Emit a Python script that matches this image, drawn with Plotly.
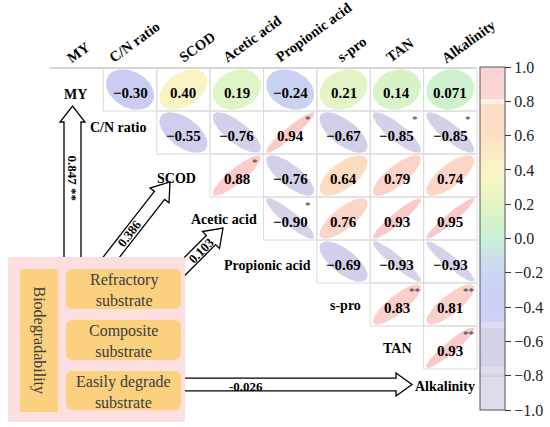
import numpy as np
import plotly.graph_objects as go
from plotly.colors import sample_colorscale

# ---------------- data ----------------
variables = ["MY", "C/N ratio", "SCOD", "Acetic acid", "Propionic acid", "s-pro", "TAN", "Alkalinity"]
# upper-triangle correlations, row i holds columns i+1 .. 7
corr_my = [-0.30, 0.40, 0.19, -0.24, 0.21, 0.14, 0.071]
corr_cn = [-0.55, -0.76, 0.94, -0.67, -0.85, -0.85]
corr_scod = [0.88, -0.76, 0.64, 0.79, 0.74]
corr_acetic = [-0.90, 0.76, 0.93, 0.95]
corr_propionic = [-0.69, -0.93, -0.93]
corr_spro = [0.83, 0.81]
corr_tan = [0.93]
corr_rows = [corr_my, corr_cn, corr_scod, corr_acetic, corr_propionic, corr_spro, corr_tan]

sig_my = ["", "", "", "", "", "", ""]
sig_cn = ["", "", "*", "", "*", "*"]
sig_scod = ["*", "", "", "", ""]
sig_acetic = ["*", "", "", ""]
sig_propionic = ["", "", ""]
sig_spro = ["**", "**"]
sig_tan = ["**"]
sig_rows = [sig_my, sig_cn, sig_scod, sig_acetic, sig_propionic, sig_spro, sig_tan]

path_labels = ["0.847 **", "0.386", "0.103", "-0.026"]
substrates = ["Refractory<br>substrate", "Composite<br>substrate", "Easily degrade<br>substrate"]
group_label = "Biodegradability"
cbar_ticks = [-1.0, -0.8, -0.6, -0.4, -0.2, 0.0, 0.2, 0.4, 0.6, 0.8, 1.0]

# ---------------- styles / layout constants ----------------
FONT = "Liberation Serif, Times New Roman, serif"
W, H = 550, 427
OFF = 0  # body margin removed by post_script: axis units = window pixels
X0, X1 = 50.0, 477.0
N = len(variables)
CW = (X1 - X0) / N
Y0, RH = 68.0, 43.0

# colour bar palette (with the light bands of the original)
cs_hex = [
    (-1.00, "#e3dcea"), (-0.98, "#e0dcec"), (-0.81, "#dedbeb"), (-0.805, "#d3d0e3"),
    (-0.79, "#d3d0e3"), (-0.785, "#dedcee"), (-0.75, "#dedcee"), (-0.745, "#d3d4e8"),
    (-0.525, "#d1d2e9"), (-0.52, "#dcdcf7"), (-0.49, "#dcdcf7"), (-0.485, "#d0d0f8"),
    (-0.30, "#cdd0f6"), (-0.15, "#cadcef"), (0.00, "#c8f0da"), (0.10, "#d4f2c8"),
    (0.20, "#e4f5c6"), (0.35, "#f8f6c4"), (0.45, "#fdefc8"), (0.60, "#fde0c4"),
    (0.78, "#fddcc8"), (0.785, "#fdefe2"), (0.81, "#fdefe2"), (0.815, "#fcd6d4"),
    (1.00, "#fbd2d2"),
]
# smooth palette used for the ellipses
ell_hex = [
    (-1.0, "#d8d2ea"), (-0.8, "#d4d0e8"), (-0.6, "#cfcfeb"), (-0.45, "#cdcdf2"),
    (-0.3, "#cbccf4"), (-0.2, "#cad6f0"), (-0.1, "#c9e4e4"), (0.0, "#c8f0d8"),
    (0.1, "#d2f2c8"), (0.2, "#e2f5c6"), (0.4, "#fbf3c2"), (0.55, "#fde6c2"),
    (0.65, "#fddcc0"), (0.75, "#fcd5c8"), (0.85, "#fbcdcb"), (1.0, "#f9c6c6"),
]


def hex2rgb(h):
    h = h.lstrip("#")
    return "rgb(%d,%d,%d)" % (int(h[0:2], 16), int(h[2:4], 16), int(h[4:6], 16))


colorscale = [[(v + 1) / 2, hex2rgb(c)] for v, c in cs_hex]
ell_scale = [[(v + 1) / 2, hex2rgb(c)] for v, c in ell_hex]

# Times bold approx widths (em)
BW = {'A': .722, 'C': .722, 'D': .722, 'M': .944, 'N': .722, 'O': .778, 'P': .611, 'S': .556,
      'T': .667, 'Y': .722, 'a': .5, 'c': .444, 'd': .556, 'e': .444, 'i': .278, 'k': .556,
      'l': .278, 'n': .556, 'o': .5, 'p': .556, 'r': .444, 's': .389, 't': .333, 'y': .5,
      '/': .278, ' ': .25, '-': .333}


def tw(s, size):
    return sum(BW.get(ch, .5) for ch in s) * size


def fmt(v):
    s = ("%.3f" % abs(v)) if abs(v) < 0.1 else ("%.2f" % abs(v))
    return ("\u2212" if v < 0 else "") + s


fig = go.Figure()
shapes = []
ann = []


def arrow_path(tail, tip, sw, hw, hl):
    tail = np.array(tail, float)
    tip = np.array(tip, float)
    d = tip - tail
    d /= np.linalg.norm(d)
    n = np.array([-d[1], d[0]])
    base = tip - hl * d
    pts = [tail + sw * n, base + sw * n, base + hw * n, tip, base - hw * n, base - sw * n, tail - sw * n]
    return "M " + " L ".join("%.2f,%.2f" % (p[0], p[1]) for p in pts) + " Z"


def rrect(x0, y0, x1, y1, r):
    return (f"M {x0+r},{y0} L {x1-r},{y0} Q {x1},{y0} {x1},{y0+r} L {x1},{y1-r} Q {x1},{y1} {x1-r},{y1} "
            f"L {x0+r},{y1} Q {x0},{y1} {x0},{y1-r} L {x0},{y0+r} Q {x0},{y0} {x0+r},{y0} Z")


# ---- arrows (drawn first, covered by the box) ----
a45 = np.deg2rad(45)
a52 = np.deg2rad(52)
arrows = [
    ((72.5, 268), (72.5, 106), 8.5, 12.5, 16),
    ((170 - 100 * np.cos(a52), 182 + 100 * np.sin(a52)), (170, 182), 6.5, 12, 17),
    ((223 - 62 * np.cos(a45), 228 + 62 * np.sin(a45)), (223, 228), 6.5, 12, 17),
    ((180, 384.5), (412, 384.5), 6.3, 11.5, 16),
]
for tail, tip, sw, hw, hl in arrows:
    shapes.append(dict(type="path", xref="x", yref="y", path=arrow_path(tail, tip, sw, hw, hl),
                       fillcolor="white", line=dict(color="black", width=1.3), layer="below"))

arrow_label_pos = [((72.5, 178), 90), ((129, 233), -52), ((201, 250), -45), ((246, 386), 0)]
for lab, ((x, y), ang) in zip(path_labels, arrow_label_pos):
    ann.append(dict(x=x, y=y, text="<b>%s</b>" % lab, textangle=ang, showarrow=False,
                    xanchor="center", yanchor="middle", font=dict(family=FONT, size=13, color="black")))

# ---- substrate box ----
shapes.append(dict(type="path", xref="x", yref="y", path=rrect(8, 257, 185, 422, 1.5),
                   fillcolor="#fddfdf", line=dict(width=0), layer="below"))
shapes.append(dict(type="path", xref="x", yref="y", path=rrect(20, 269, 58, 412, 2),
                   fillcolor="#fbd180", line=dict(width=0), layer="below"))
ann.append(dict(x=39, y=340.5, text=group_label, textangle=90, showarrow=False,
                font=dict(family=FONT, size=16, color="#3c3c3c")))
box_y = [(269, 309), (320, 360), (371, 410)]
for lab, (yy0, yy1) in zip(substrates, box_y):
    shapes.append(dict(type="path", xref="x", yref="y", path=rrect(66, yy0, 181, yy1, 7),
                       fillcolor="#fbd180", line=dict(width=0), layer="below"))
    ann.append(dict(x=123.5, y=(yy0 + yy1) / 2 + 1, text=lab, showarrow=False,
                    font=dict(family=FONT, size=16, color="#3c3c3c")))

# ---- grid ----
shapes.append(dict(type="line", xref="x", yref="y", x0=X0, x1=X1, y0=Y0, y1=Y0,
                   line=dict(color="#c4c4c4", width=1.5), layer="below"))
for i, row in enumerate(corr_rows):
    for k, r in enumerate(row):
        j = i + 1 + k
        cx0 = X0 + CW * j
        cy0 = Y0 + RH * i
        shapes.append(dict(type="rect", xref="x", yref="y", x0=cx0, x1=cx0 + CW, y0=cy0, y1=cy0 + RH,
                           line=dict(color="#dadada", width=1), fillcolor="rgba(0,0,0,0)", layer="below"))

# ---- ellipses + values ----
t = np.linspace(0, 2 * np.pi, 80)
sx, sy = 0.45 * CW, 0.47 * RH
for i, row in enumerate(corr_rows):
    for k, r in enumerate(row):
        j = i + 1 + k
        cx = X0 + CW * (j + 0.5)
        cy = Y0 + RH * (i + 0.5)
        d = np.arccos(r)
        ex = cx + sx * np.cos(t + d / 2)
        ey = cy - sy * np.cos(t - d / 2)
        col = sample_colorscale(ell_scale, [(r + 1) / 2])[0]
        fig.add_trace(go.Scatter(x=ex, y=ey, mode="lines", fill="toself", fillcolor=col,
                                 line=dict(width=0), hoverinfo="skip"))
        ann.append(dict(x=cx, y=cy + 3, text="<b>%s</b>" % fmt(r), showarrow=False,
                        font=dict(family=FONT, size=15, color="black")))
        s = sig_rows[i][k]
        if s:
            ann.append(dict(x=cx + CW / 2 - 9, y=cy - RH / 2 + 8, text=s, showarrow=False,
                            font=dict(family=FONT, size=11, color="#333")))

# ---- row labels ----
row_label_right = [88.5, 148, 198, 259, 313, 363, 414, 477]
row_label_dy = [4.5, -5, 3, 0.5, 3.5, 0.5, 0.5, -4.5]
for i, name in enumerate(variables):
    ann.append(dict(x=row_label_right[i], y=Y0 + RH * (i + 0.5) + row_label_dy[i], text="<b>%s</b>" % name,
                    showarrow=False, xanchor="right", yanchor="middle",
                    font=dict(family=FONT, size=14, color="black")))

# ---- column headers (rotated) ----
hdr_dx = [-5, -17, 0, -10, -10, -2, -7, -4]
HANG = 36
ang = np.deg2rad(HANG)
u = np.array([np.cos(ang), -np.sin(ang)])
v = np.array([-np.sin(ang), -np.cos(ang)])
for j, name in enumerate(variables):
    start = np.array([X0 + CW * (j + 0.5) + hdr_dx[j], 62.5])
    L = tw(name, 14.5)
    c = start + (L / 2) * u + 4.5 * v
    ann.append(dict(x=c[0], y=c[1], text="<b>%s</b>" % name, textangle=-HANG, showarrow=False,
                    xanchor="center", yanchor="middle", font=dict(family=FONT, size=14.5, color="black")))

# ---- colorbar ----
fig.add_trace(go.Scatter(
    x=[-100, -100], y=[-100, -100], mode="markers", hoverinfo="skip",
    marker=dict(color=[-1, 1], cmin=-1, cmax=1, colorscale=colorscale, size=1, showscale=True,
                colorbar=dict(x=(480 - OFF) / W, xanchor="left", y=1 - (67 - OFF) / H, yanchor="top",
                              len=343, lenmode="pixels", thickness=25, thicknessmode="pixels",
                              xpad=0, ypad=0, outlinewidth=1, outlinecolor="#555",
                              tickvals=cbar_ticks, tickformat=".1f", ticks="outside", ticklen=6,
                              tickwidth=1, tickcolor="#333",
                              tickfont=dict(family=FONT, size=16, color="#222")))))

fig.update_layout(
    width=W, height=H, autosize=False, margin=dict(l=0, r=0, t=0, b=0),
    paper_bgcolor="white", plot_bgcolor="white", showlegend=False,
    xaxis=dict(range=[OFF, W + OFF], visible=False, fixedrange=True),
    yaxis=dict(range=[H + OFF, OFF], visible=False, fixedrange=True),
    shapes=shapes, annotations=ann,
)
fig.write_html("out.html", config={"displayModeBar": False, "staticPlot": True},
               post_script="document.body.style.margin='0';document.body.style.padding='0';")
